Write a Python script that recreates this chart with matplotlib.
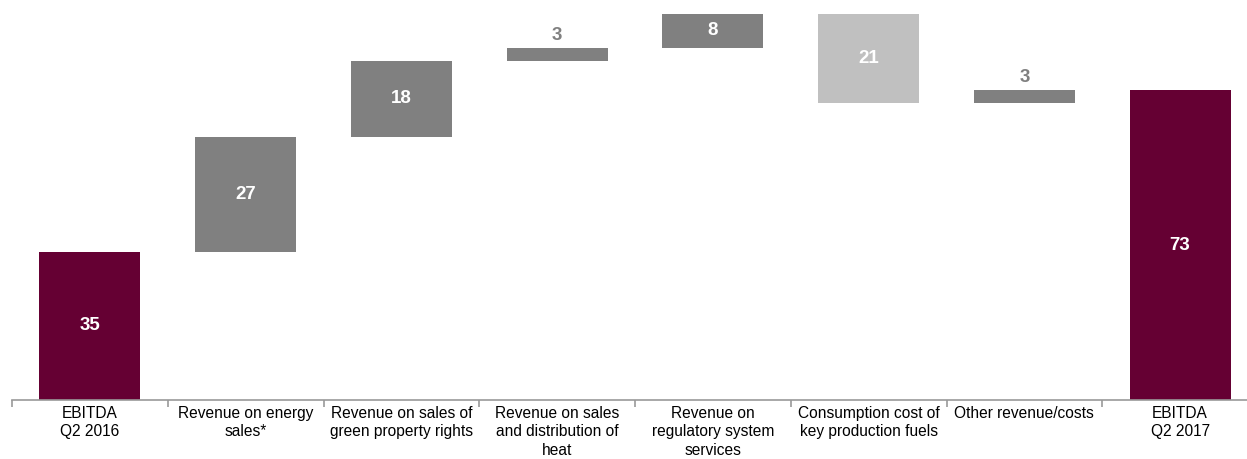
import matplotlib.pyplot as plt

# EBITDA bridge Q2 2016 -> Q2 2017
categories = [
    "EBITDA\nQ2 2016",
    "Revenue on energy\nsales*",
    "Revenue on sales of\ngreen property rights",
    "Revenue on sales\nand distribution of\nheat",
    "Revenue on\nregulatory system\nservices",
    "Consumption cost of\nkey production fuels",
    "Other revenue/costs",
    "EBITDA\nQ2 2017",
]
start_value = 35
changes = [27, 18, 3, 8, -21, 3]
end_value = 73

plt.rcParams['font.family'] = ['Liberation Sans', 'DejaVu Sans']

MAROON = '#650033'
UP_GREY = '#808080'
DOWN_GREY = '#c0c0c0'

fig = plt.figure(figsize=(12.47, 4.59), dpi=100)
ax = fig.add_axes([12 / 1247, 59 / 459, 1246 / 1247, 400 / 459])

# build bottoms / heights for the floating bars
bottoms = [0]
heights = [start_value]
colors = [MAROON]
running = start_value
for c in changes:
    if c >= 0:
        bottoms.append(running)
        colors.append(UP_GREY)
    else:
        bottoms.append(running + c)
        colors.append(DOWN_GREY)
    heights.append(abs(c))
    running += c
bottoms.append(0)
heights.append(end_value)
colors.append(MAROON)

values = [start_value] + changes + [end_value]
x = list(range(len(categories)))
ax.bar(x, heights, bottom=bottoms, width=0.65, color=colors, edgecolor='none')

for xi, b, h, v in zip(x, bottoms, heights, values):
    label = str(abs(v))
    if h >= 6:
        ax.text(xi, b + h / 2, label, ha='center', va='center',
                color='white', fontsize=13.5, fontweight='bold')
    else:
        ax.text(xi, b + h + 1.0, label, ha='center', va='bottom',
                color=UP_GREY, fontsize=13.5, fontweight='bold')

ax.set_xlim(-0.5, len(categories) - 0.5)
ax.set_ylim(0, 94.3)

for side in ['top', 'right', 'left']:
    ax.spines[side].set_visible(False)
ax.spines['bottom'].set_color('#999999')
ax.spines['bottom'].set_linewidth(1.2)
ax.set_yticks([])

# category labels centred under bars, tick marks between categories
ax.set_xticks(x)
ax.set_xticklabels(categories, fontsize=11.2, linespacing=1.3)
ax.tick_params(axis='x', length=0, pad=4)
ax.set_xticks([i - 0.5 for i in range(len(categories) + 1)], minor=True)
ax.tick_params(axis='x', which='minor', length=5, width=1.2, color='#999999',
               direction='out')

plt.savefig('out.png', dpi=100)
